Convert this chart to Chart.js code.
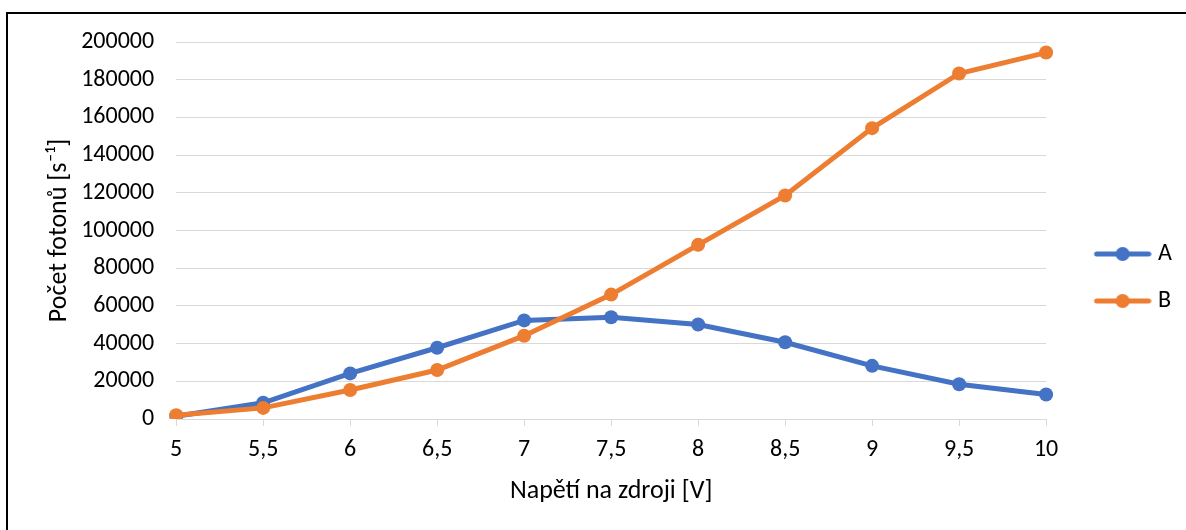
<!DOCTYPE html>
<html>
<head>
<meta charset="utf-8">
<script src="https://cdn.jsdelivr.net/npm/chart.js@4/dist/chart.umd.min.js"></script>
<style>
  html, body { margin: 0; padding: 0; background: #fff; }
  #wrap { position: relative; width: 1186px; height: 530px; overflow: hidden; }
  #frame { position: absolute; left: 6px; top: 12px; width: 1300px; height: 600px;
           border-left: 2px solid #000; border-top: 2px solid #000; pointer-events: none; }
  canvas { position: absolute; left: 0; top: 0; }
</style>
</head>
<body>
<div id="wrap">
  <canvas id="chart" width="1186" height="530"></canvas>
  <div id="frame"></div>
</div>
<script>
/* Napětí na zdroji vs. počet fotonů — dvě řady A a B */

const voltages = ['5', '5,5', '6', '6,5', '7', '7,5', '8', '8,5', '9', '9,5', '10'];
const seriesA  = [1500, 8600, 24200, 37800, 52300, 54000, 50100, 40700, 28200, 18400, 13000];
const seriesB  = [2000, 5900, 15400, 26000, 44200, 66000, 92400, 118600, 154300, 183300, 194400];
const yTicks   = [0, 20000, 40000, 60000, 80000, 100000, 120000, 140000, 160000, 180000, 200000];

const BLUE   = '#4472C4';
const ORANGE = '#ED7D31';
const GRID   = '#d9d9d9';
const FONT   = "Carlito, Calibri, Lato, 'Open Sans', sans-serif";
const TICK_SIZE  = 24;
const TITLE_SIZE = 26;

// Ikona legendy: čára s kolečkem uprostřed (jako v Excelu)
// obrázek je širší než pointStyleWidth, vlevo průhledný okraj
function legendIcon(color) {
  const c = document.createElement('canvas');
  c.width = 88; c.height = 16;
  const g = c.getContext('2d');
  g.strokeStyle = color;
  g.lineWidth = 5;
  g.lineCap = 'round';
  g.beginPath(); g.moveTo(33, 8); g.lineTo(85, 8); g.stroke();
  g.fillStyle = color;
  g.beginPath(); g.arc(59, 8, 7, 0, Math.PI * 2); g.fill();
  return c;
}

const iconA = legendIcon(BLUE);
const iconB = legendIcon(ORANGE);

function buildDataset(label, data, color, order) {
  return {
    label,
    data,
    order,
    borderColor: color,
    backgroundColor: color,
    borderWidth: 5,
    pointRadius: 7,
    pointHoverRadius: 7,
    pointBackgroundColor: color,
    pointBorderColor: color,
    pointBorderWidth: 0,
    tension: 0,
    fill: false
  };
}

const ctx = document.getElementById('chart').getContext('2d');
new Chart(ctx, {
  type: 'line',
  data: {
    labels: voltages,
    datasets: [
      buildDataset('A', seriesA, BLUE, 1),
      buildDataset('B', seriesB, ORANGE, 0)
    ]
  },
  options: {
    responsive: false,
    animation: false,
    devicePixelRatio: 1,
    layout: { padding: { left: 44, top: 42, right: 4, bottom: 23 } },
    plugins: {
      tooltip: { enabled: false },
      legend: {
        position: 'right',
        // prázdný titulek jen posune položky legendy o pár px dolů
        title: { display: true, text: '', padding: 0, font: { size: 5 } },
        labels: {
          usePointStyle: true,
          pointStyleWidth: 77,
          padding: 23,
          color: '#000',
          font: { family: FONT, size: TICK_SIZE },
          generateLabels: chart => [
            { text: 'A', pointStyle: iconA, datasetIndex: 0, fontColor: '#000', lineWidth: 0, strokeStyle: BLUE, fillStyle: BLUE },
            { text: 'B', pointStyle: iconB, datasetIndex: 1, fontColor: '#000', lineWidth: 0, strokeStyle: ORANGE, fillStyle: ORANGE }
          ]
        }
      }
    },
    scales: {
      x: {
        offset: false,
        grid: { display: true, drawOnChartArea: false, drawTicks: true, tickLength: 7, color: GRID },
        border: { display: true, color: GRID, width: 1 },
        ticks: { color: '#000', font: { family: FONT, size: TICK_SIZE }, padding: 10, maxRotation: 0 },
        title: {
          display: true,
          text: 'Napětí na zdroji [V]',
          color: '#000',
          font: { family: FONT, size: TITLE_SIZE },
          padding: { top: 1, bottom: 0 }
        }
      },
      y: {
        min: 0,
        max: 200000,
        afterBuildTicks: axis => { axis.ticks = yTicks.map(v => ({ value: v })); },
        grid: { color: GRID, lineWidth: 1, drawTicks: false },
        border: { display: false },
        ticks: {
          color: '#000',
          font: { family: FONT, size: TICK_SIZE },
          padding: 22,
          callback: v => String(v)
        },
        title: {
          display: true,
          text: 'Počet fotonů [s⁻¹]',
          color: '#000',
          font: { family: FONT, size: TITLE_SIZE },
          padding: { top: 0, bottom: -16 }
        }
      }
    }
  }
});
</script>
</body>
</html>
